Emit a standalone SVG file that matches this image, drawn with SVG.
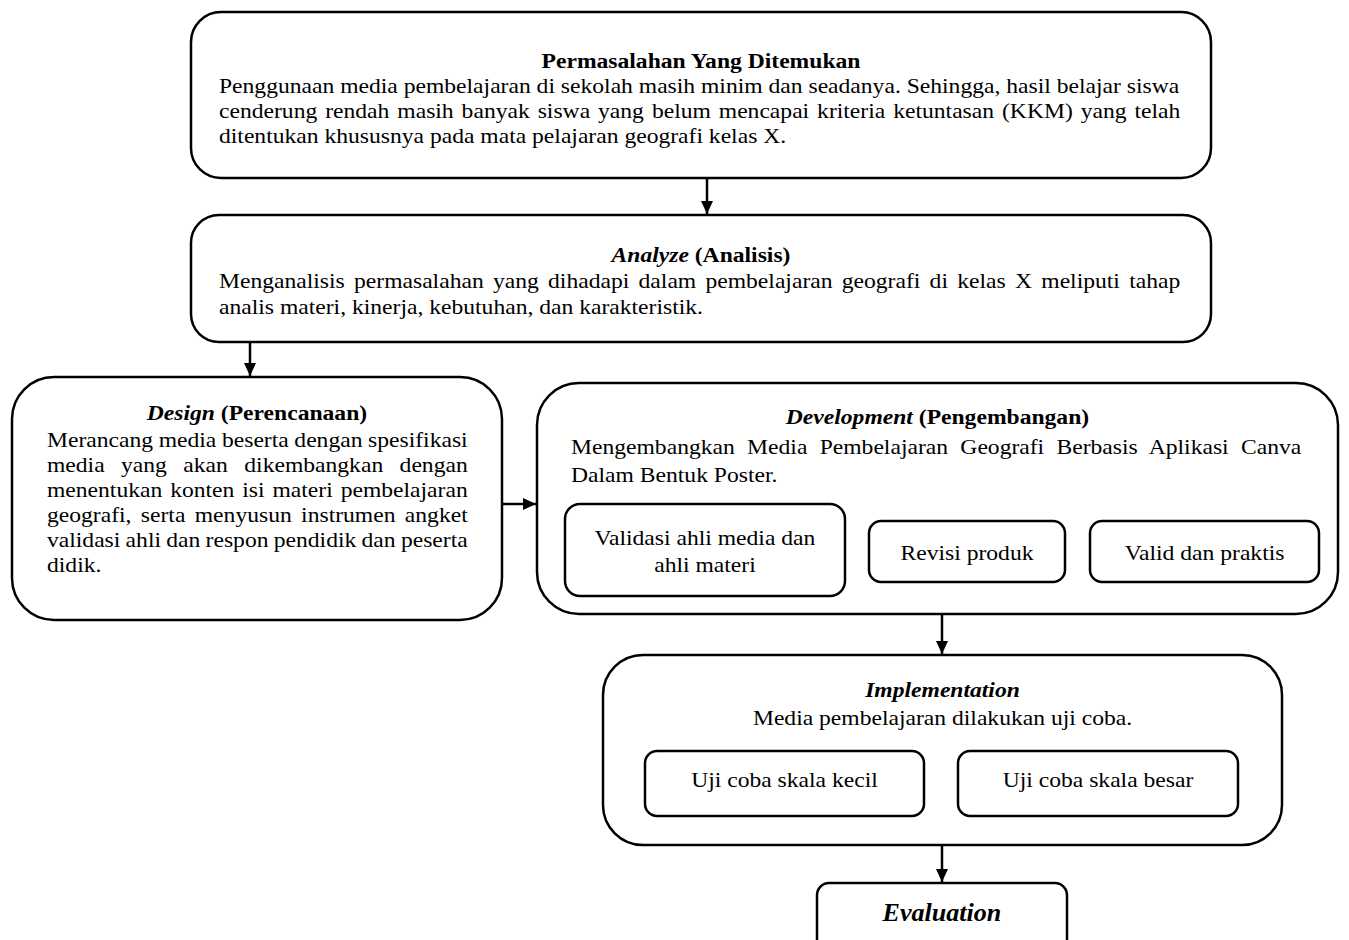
<svg xmlns="http://www.w3.org/2000/svg" width="1349" height="940" viewBox="0 0 1349 940">
<defs>
<style>
.box{fill:#fff;stroke:#000;stroke-width:2.5}
.t{font-family:"Liberation Serif","Times New Roman",serif;font-size:22px;fill:#000}
.c{text-anchor:middle}
.b{font-weight:bold}
.i{font-style:italic}
.conn{stroke:#000;stroke-width:2.5;fill:none;marker-end:url(#arrow)}
</style>
<marker id="arrow" markerUnits="userSpaceOnUse" markerWidth="13" markerHeight="12" refX="13" refY="6" orient="auto">
<path d="M0,0 L13,6 L0,12 Z" fill="#000"/>
</marker>
</defs>
<rect width="1349" height="940" fill="#fff"/>

<g id="connectors">
<path class="conn" d="M707,178 L707,214"/>
<path class="conn" d="M250,342 L250,376"/>
<path class="conn" d="M502,504 L536,504"/>
<path class="conn" d="M845,552 L868,552"/>
<path class="conn" d="M1065,552 L1089,552"/>
<path class="conn" d="M942,614 L942,654"/>
<path class="conn" d="M924,784 L957,784"/>
<path class="conn" d="M942,845 L942,882"/>
</g>

<g id="problem">
<rect class="box" x="191" y="12" width="1020" height="166" rx="30"/>
<text class="t b c" x="653.3" y="68" transform="scale(1.073 1)">Permasalahan Yang Ditemukan</text>
<text class="t" x="204.1" y="93" transform="scale(1.073 1)">Penggunaan media pembelajaran di sekolah masih minim dan seadanya. Sehingga, hasil belajar siswa</text>
<text class="t" x="204.1" y="118" word-spacing="1.93" transform="scale(1.073 1)">cenderung rendah masih banyak siswa yang belum mencapai kriteria ketuntasan (KKM) yang telah</text>
<text class="t" x="204.1" y="143" transform="scale(1.073 1)">ditentukan khususnya pada mata pelajaran geografi kelas X.</text>
</g>

<g id="analyze">
<rect class="box" x="191" y="215" width="1020" height="127" rx="28"/>
<text class="t b c" x="653.3" y="262" transform="scale(1.073 1)"><tspan class="i">Analyze</tspan> (Analisis)</text>
<text class="t" x="204.1" y="288" word-spacing="3.15" transform="scale(1.073 1)">Menganalisis permasalahan yang dihadapi dalam pembelajaran geografi di kelas X meliputi tahap</text>
<text class="t" x="204.1" y="314" transform="scale(1.073 1)">analis materi, kinerja, kebutuhan, dan karakteristik.</text>
</g>

<g id="design">
<rect class="box" x="12" y="377" width="490" height="243" rx="42"/>
<text class="t b c" x="239.5" y="420" transform="scale(1.073 1)"><tspan class="i">Design</tspan> (Perencanaan)</text>
<text class="t" x="43.8" y="447" word-spacing="-0.25" transform="scale(1.073 1)">Merancang media beserta dengan spesifikasi</text>
<text class="t" x="43.8" y="472" word-spacing="9.83" transform="scale(1.073 1)">media yang akan dikembangkan dengan</text>
<text class="t" x="43.8" y="497" word-spacing="1.89" transform="scale(1.073 1)">menentukan konten isi materi pembelajaran</text>
<text class="t" x="43.8" y="522" word-spacing="3.26" transform="scale(1.073 1)">geografi, serta menyusun instrumen angket</text>
<text class="t" x="43.8" y="547" word-spacing="-0.58" transform="scale(1.073 1)">validasi ahli dan respon pendidik dan peserta</text>
<text class="t" x="43.8" y="572" transform="scale(1.073 1)">didik.</text>
</g>

<g id="development">
<rect class="box" x="537" y="383" width="801" height="231" rx="42"/>
<text class="t b c" x="873.7" y="424" transform="scale(1.073 1)"><tspan class="i">Development</tspan> (Pengembangan)</text>
<text class="t" x="532.2" y="454" word-spacing="5.99" transform="scale(1.073 1)">Mengembangkan Media Pembelajaran Geografi Berbasis Aplikasi Canva</text>
<text class="t" x="532.2" y="482" transform="scale(1.073 1)">Dalam Bentuk Poster.</text>
</g>

<g id="validasi">
<rect class="box" x="565" y="504" width="280" height="92" rx="15"/>
<text class="t c" x="657.0" y="545" transform="scale(1.073 1)">Validasi ahli media dan</text>
<text class="t c" x="657.0" y="572" transform="scale(1.073 1)">ahli materi</text>
</g>

<g id="revisi">
<rect class="box" x="869" y="521" width="196" height="61" rx="12"/>
<text class="t c" x="901.2" y="560" transform="scale(1.073 1)">Revisi produk</text>
</g>

<g id="valid">
<rect class="box" x="1090" y="521" width="229" height="61" rx="12"/>
<text class="t c" x="1122.6" y="560" transform="scale(1.073 1)">Valid dan praktis</text>
</g>

<g id="implementation">
<rect class="box" x="603" y="655" width="679" height="190" rx="40"/>
<text class="t b i c" x="878.4" y="697" transform="scale(1.073 1)">Implementation</text>
<text class="t c" x="878.4" y="725" transform="scale(1.073 1)">Media pembelajaran dilakukan uji coba.</text>
</g>

<g id="uji-kecil">
<rect class="box" x="645" y="751" width="279" height="65" rx="12"/>
<text class="t c" x="731.1" y="787" transform="scale(1.073 1)">Uji coba skala kecil</text>
</g>

<g id="uji-besar">
<rect class="box" x="958" y="751" width="280" height="65" rx="12"/>
<text class="t c" x="1023.3" y="787" transform="scale(1.073 1)">Uji coba skala besar</text>
</g>

<g id="evaluation">
<rect class="box" x="817" y="883" width="250" height="80" rx="12"/>
<text class="t b i c" x="877.9" y="921" style="font-size:24.3px" transform="scale(1.073 1)">Evaluation</text>
</g>
</svg>
